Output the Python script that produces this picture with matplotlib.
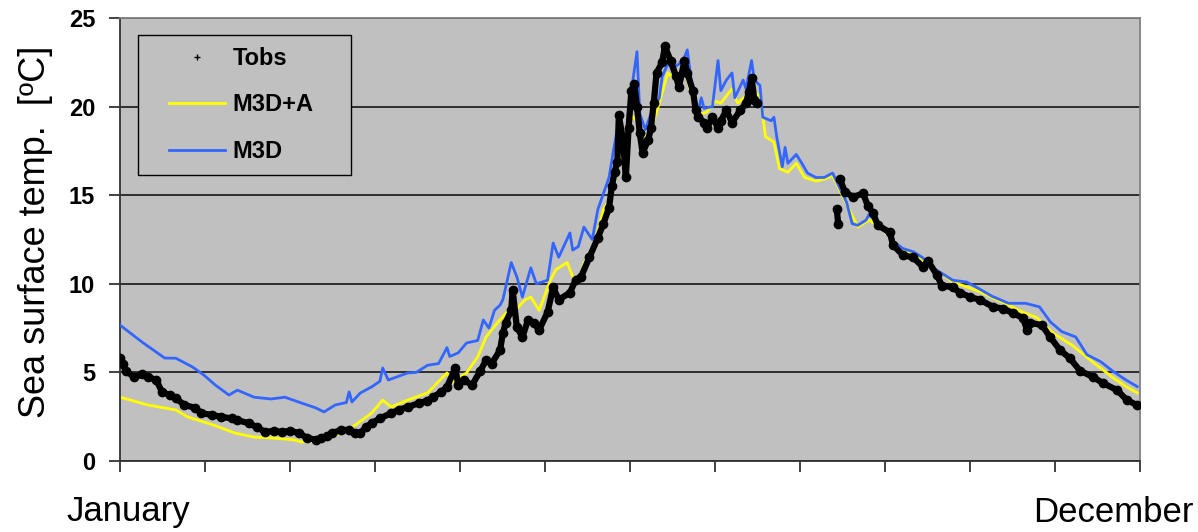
import numpy as np
import matplotlib.pyplot as plt
from matplotlib.lines import Line2D
from matplotlib.legend_handler import HandlerLine2D

plt.rcParams['font.family'] = ['Liberation Sans', 'DejaVu Sans']

# day of year / temperature [degC]
m3d_day = [0, 8, 16, 20, 26, 30, 34, 39, 42, 48, 54, 59, 65, 70, 73, 77, 81, 82, 83, 86,
           90, 93, 94, 96, 100, 103, 106, 108, 110, 114, 117, 118, 121, 124, 128, 130, 132,
           134, 136, 137, 140, 142, 144, 147, 149, 153, 155, 157, 161, 162, 164, 166, 169,
           171, 173, 175, 177, 178, 180, 182, 183, 185, 186, 188, 190, 193, 194, 196, 198,
           200, 202, 203, 205, 207, 208, 209, 212, 214, 215, 217, 219, 220, 223, 224, 226,
           227, 229, 230, 233, 234, 235, 237, 238, 239, 242, 244, 246, 249, 252, 255, 260,
           262, 264, 267, 268, 272, 276, 280, 284, 287, 292, 298, 303, 307, 312, 318, 324,
           329, 333, 337, 342, 346, 351, 355, 360, 364]
m3d_val = [7.67, 6.7, 5.81, 5.8, 5.3, 4.85, 4.3, 3.72, 4.0, 3.6, 3.5, 3.6, 3.27, 3.0, 2.77,
           3.16, 3.3, 3.9, 3.33, 3.84, 4.18, 4.5, 5.25, 4.57, 4.8, 4.97, 5.0, 5.2, 5.4, 5.5,
           6.4, 5.9, 6.1, 6.66, 6.8, 7.96, 7.5, 8.5, 8.8, 9.1, 11.2, 10.4, 9.25, 10.9, 10.0,
           10.2, 12.3, 11.5, 12.87, 11.9, 12.1, 13.2, 12.5, 14.2, 15.1, 16.0, 17.9, 18.8,
           17.9, 18.8, 20.9, 23.1, 19.6, 18.7, 19.6, 20.5, 21.7, 22.4, 22.2, 22.4, 22.8,
           23.2, 20.8, 19.8, 20.5, 19.9, 20.0, 22.6, 20.9, 21.5, 21.9, 20.5, 21.5, 21.0,
           22.6, 21.5, 21.2, 19.4, 19.2, 19.4, 18.3, 16.6, 17.7, 16.8, 17.3, 16.8, 16.25,
           16.0, 16.0, 16.25, 14.6, 13.4, 13.3, 13.6, 13.9, 13.4, 12.5, 12.0, 11.8, 11.5,
           10.8, 10.2, 10.1, 9.76, 9.3, 8.9, 8.9, 8.7, 7.84, 7.3, 7.0, 6.0, 5.6, 5.1, 4.57,
           4.2]

m3da_day = [0, 10, 20, 24, 34, 41, 48, 54, 62, 65, 70, 75, 80, 83, 90, 94, 97, 103, 110,
            117, 119, 124, 128, 131, 135, 139, 142, 145, 147, 150, 154, 156, 160, 162, 164,
            166, 169, 171, 173, 176, 179, 181, 183, 185, 187, 189, 191, 193, 196, 198, 200,
            202, 205, 207, 210, 213, 215, 217, 219, 221, 224, 227, 229, 231, 234, 236, 239,
            242, 245, 249, 252, 255, 260, 264, 268, 272, 280, 287, 298, 307, 318, 323, 328,
            334, 341, 348, 355, 360, 364]
m3da_val = [3.6, 3.16, 2.88, 2.5, 2.0, 1.58, 1.35, 1.3, 1.2, 1.07, 1.15, 1.4, 1.6, 1.9,
            2.7, 3.44, 3.05, 3.44, 3.84, 4.97, 4.46, 4.97, 5.87, 7.0, 7.79, 8.5, 8.6, 9.1,
            9.25, 8.5, 10.2, 10.8, 11.2, 10.4, 10.0, 11.2, 11.6, 13.0, 14.2, 14.9, 17.4,
            17.0, 19.5, 19.2, 18.5, 18.1, 19.2, 20.2, 21.9, 21.6, 21.8, 22.2, 20.3, 19.5,
            19.7, 20.3, 20.2, 20.6, 21.0, 20.2, 20.6, 20.8, 20.6, 18.3, 18.0, 16.5, 16.3,
            16.8, 16.0, 15.8, 15.9, 16.1, 14.5, 13.2, 13.6, 13.2, 11.9, 11.4, 10.1, 9.6,
            8.8, 8.4, 8.1, 7.2, 6.5, 5.6, 4.74, 4.2, 3.84]

# observations, nan marks the gap in the record
tobs_day = [0, 1, 2, 5, 8, 10, 13, 15, 18, 20, 23, 27, 29, 33, 36, 40, 42, 46, 49, 52, 55,
            58, 61, 64, 67, 70, 72, 74, 76, 79, 82, 84, 86, 88, 90, 93, 97, 100, 103, 107,
            110, 112, 115, 117, 120, 121, 123, 126, 129, 131, 133, 136, 137, 138, 140,
            140.5, 142, 144, 146, 148, 150, 153, 155, 157, 161, 163, 165, 168, 171, 173,
            175, 176, 177, 178, 178.5, 180, 181, 182, 183, 184, 185, 186, 187, 189, 190,
            191, 192, 194, 195, 197, 199, 200, 202, 203, 205, 206, 207, 209, 210, 212, 214,
            215, 217, 219, 222, 224, 225, 226, 227, 228, 240, 256.5, 257, 257.3, 257.6,
            259.4, 262.3, 265.9, 267.6, 269.4, 271.2, 275.5, 276.6, 280.2, 283.8, 287.3,
            289.1, 292.3, 294.1, 298, 300.6, 304.2, 307.7, 312.4, 316, 319.5, 323.1, 324.6,
            325.6, 329.9, 332.8, 336.4, 339.9, 343.5, 348.2, 351.7, 356.8, 360.3, 363.9]
tobs_val = [5.8, 5.5, 5.1, 4.74, 4.9, 4.74, 4.57, 3.9, 3.7, 3.55, 3.16, 3.0, 2.7, 2.6, 2.5,
            2.4, 2.3, 2.14, 1.9, 1.64, 1.7, 1.64, 1.7, 1.58, 1.3, 1.2, 1.3, 1.4, 1.58, 1.75,
            1.75, 1.6, 1.58, 1.9, 2.14, 2.4, 2.7, 2.9, 3.05, 3.27, 3.4, 3.6, 3.9, 4.18,
            5.25, 4.3, 4.57, 4.29, 5.1, 5.7, 5.5, 6.26, 7.2, 7.8, 8.5, 9.65, 7.56, 7.0,
            7.96, 7.8, 7.4, 8.4, 9.8, 9.1, 9.5, 10.2, 10.4, 11.5, 12.6, 13.4, 14.3, 15.5,
            16.3, 16.9, 19.5, 18.1, 16.0, 18.8, 20.9, 21.3, 20.0, 18.5, 17.4, 18.1, 18.8,
            20.2, 21.9, 22.5, 23.4, 22.6, 21.7, 21.1, 22.6, 21.9, 20.9, 19.8, 19.4, 19.1,
            18.8, 19.4, 18.8, 19.2, 19.8, 19.1, 19.8, 20.2, 20.8, 21.6, 20.4, 20.2, np.nan,
            14.2, 13.4, np.nan, 15.9, 15.2, 14.9, 15.1, 14.4, 14.0, 13.3, 12.9, 12.2, 11.6,
            11.5, 10.95, 11.3, 10.5, 9.9, 9.8, 9.5, 9.25, 9.1, 8.7, 8.6, 8.35, 8.07, 7.4,
            7.8, 7.67, 7.0, 6.26, 5.8, 5.1, 4.74, 4.4, 4.0, 3.44, 3.16]

month_edges = np.linspace(0, 365, 13)
y_ticks = [0, 5, 10, 15, 20, 25]

fig = plt.figure(figsize=(11.98, 5.32), dpi=100)
ax = fig.add_axes([120 / 1198, 71 / 532, 1020 / 1198, 443 / 532])
ax.set_facecolor('#c0c0c0')

ax.plot(m3d_day, m3d_val, color='#3366ff', lw=2, zorder=3)
ax.plot(m3da_day, m3da_val, color='#ffff00', lw=2, zorder=2)
ax.plot(tobs_day, tobs_val, color='k', lw=4.5, marker='o', ms=6, zorder=4)

ax.set_xlim(0, 365)
ax.set_ylim(0, 25)
ax.set_yticks(y_ticks)
ax.set_xticks(month_edges)
ax.set_xticklabels([])
ax.yaxis.grid(True, color='#222222', lw=1.3)
ax.set_axisbelow(True)
ax.tick_params(axis='both', direction='out', length=8, width=1.3, color='#333333')
ax.tick_params(axis='y', labelsize=17, pad=10)
for lab in ax.get_yticklabels():
    lab.set_fontweight('bold')
for side in ['left', 'bottom']:
    ax.spines[side].set_color('#333333')
    ax.spines[side].set_linewidth(1.3)
for side in ['top', 'right']:
    ax.spines[side].set_color('#808080')
    ax.spines[side].set_linewidth(1.3)

handles = [Line2D([], [], ls='none', marker='+', color='k', ms=4, mew=1),
           Line2D([], [], color='#ffff00', lw=2),
           Line2D([], [], color='#3366ff', lw=2)]
hmap = {h: HandlerLine2D(xpad=0.8) for h in handles}
leg_top = 426 / 443
leg = ax.legend(handles, ['Tobs', 'M3D+A', 'M3D'], loc='upper left',
                bbox_to_anchor=(18 / 1020, leg_top - 0.4, 213 / 1020, 0.4), mode='expand',
                borderaxespad=0, handler_map=hmap,
                prop={'weight': 'bold', 'size': 17}, fancybox=False,
                facecolor='#c0c0c0', edgecolor='k', framealpha=1,
                handlelength=3.2, handletextpad=0.3, labelspacing=1.0, borderpad=0.5)
leg.get_frame().set_linewidth(1.0)

fig.text(36 / 1198, 1 - 232 / 532, 'Sea surface temp.  [ºC]', rotation=90,
         fontsize=26, ha='center', va='center')
fig.text(128 / 1198, 1 - 512 / 532, 'January', fontsize=25, ha='center', va='center')
fig.text(1113 / 1198, 1 - 512 / 532, 'December', fontsize=25, ha='center', va='center')

fig.savefig('out.png', dpi=100)
